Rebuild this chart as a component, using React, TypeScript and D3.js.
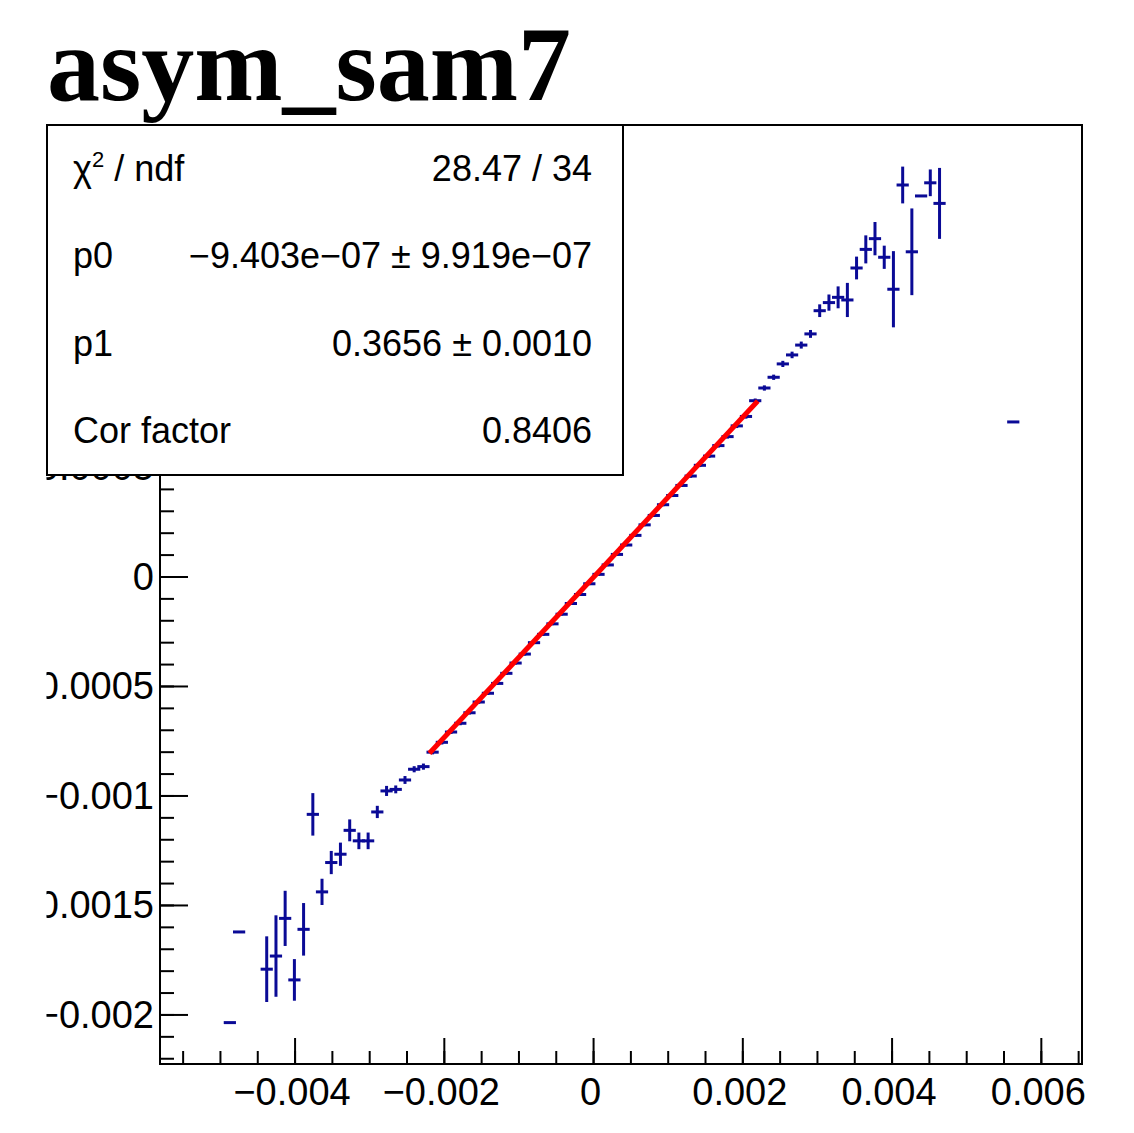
import * as d3 from "d3";

// bin centers, profile values and errors (all x1e-3)
const binCenters = [
  -4.874, -4.75, -4.38, -4.256, -4.133, -4.009, -3.886, -3.762, -3.639, -3.515,
  -3.392, -3.268, -3.145, -3.021, -2.898, -2.774, -2.651, -2.527, -2.404, -2.28,
  -2.157, -2.033, -1.91, -1.786, -1.663, -1.539, -1.416, -1.292, -1.169, -1.045,
  -0.922, -0.798, -0.675, -0.551, -0.428, -0.304, -0.181, -0.057, 0.066, 0.19,
  0.313, 0.437, 0.56, 0.684, 0.807, 0.931, 1.054, 1.178, 1.301, 1.425, 1.548,
  1.672, 1.795, 1.919, 2.042, 2.166, 2.289, 2.413, 2.536, 2.66, 2.783, 2.907,
  3.03, 3.154, 3.277, 3.401, 3.524, 3.648, 3.771, 3.895, 4.018, 4.142, 4.265,
  4.389, 4.512, 4.636, 5.624,
];
const profileValues = [
  -2.035, -1.621, -1.791, -1.731, -1.559, -1.84, -1.609, -1.084, -1.438, -1.304,
  -1.266, -1.157, -1.205, -1.205, -1.073, -0.977, -0.97, -0.927, -0.878, -0.866,
  -0.8, -0.755, -0.708, -0.668, -0.62, -0.571, -0.531, -0.486, -0.44, -0.393,
  -0.352, -0.3, -0.262, -0.214, -0.17, -0.121, -0.08, -0.031, 0.012, 0.055,
  0.103, 0.146, 0.19, 0.238, 0.281, 0.33, 0.372, 0.418, 0.461, 0.51, 0.552, 0.6,
  0.641, 0.69, 0.733, 0.805, 0.863, 0.912, 0.973, 1.014, 1.059, 1.11, 1.216,
  1.253, 1.277, 1.265, 1.411, 1.496, 1.545, 1.46, 1.314, 1.79, 1.485, 1.74, 1.8,
  1.706, 0.708,
];
const profileErrors = [
  0, 0, 0.15, 0.186, 0.126, 0.095, 0.12, 0.097, 0.06, 0.053, 0.053, 0.05, 0.038,
  0.038, 0.028, 0.023, 0.018, 0.018, 0.014, 0.014, 0.01, 0.01, 0.009, 0.009,
  0.008, 0.008, 0.008, 0.007, 0.007, 0.007, 0.007, 0.006, 0.006, 0.006, 0.006,
  0.006, 0.006, 0.006, 0.006, 0.006, 0.006, 0.006, 0.006, 0.006, 0.007, 0.007,
  0.007, 0.007, 0.008, 0.008, 0.008, 0.009, 0.009, 0.01, 0.01, 0.01, 0.012,
  0.012, 0.014, 0.015, 0.016, 0.018, 0.029, 0.037, 0.05, 0.078, 0.052, 0.064,
  0.076, 0.053, 0.174, 0.084, 0.198, 0, 0.061, 0.162, 0,
];
const binWidth = 0.1235; // x1e-3

// fit result
const fitP0 = -9.403e-7;
const fitP1 = 0.3656;
const fitRange = [-0.0022, 0.0022];

const statLabels = ["χ2 / ndf", "p0", "p1", "Cor factor"];
const statValues = ["28.47 / 34", "−9.403e−07 ± 9.919e−07", "0.3656 ± 0.0010", "0.8406"];

const xMajor = [-0.004, -0.002, 0, 0.002, 0.004, 0.006];
const yMajor = [-0.002, -0.0015, -0.001, -0.0005, 0, 0.0005, 0.001, 0.0015, 0.002];

const W = 1134;
const H = 1133;
const frame = { left: 160, right: 1082, top: 125, bottom: 1064 };

const x = d3.scaleLinear().domain([-0.00581, 0.006545]).range([frame.left, frame.right]);
const y = d3.scaleLinear().domain([-0.002224, 0.002064]).range([frame.bottom, frame.top]);

const fmt = (v: number) => (v === 0 ? "0" : String(+v.toFixed(4)).replace("-", "−"));

const BLUE = "#0a0a96";
const FONT = "'Liberation Sans', Arial, sans-serif";

export default function App() {
  const xMinor = d3.range(-12, 14).map((i) => i * 0.0005).filter((v) => v > x.domain()[0] && v < x.domain()[1]);
  const yMinor = d3.range(-22, 21).map((i) => i * 0.0001).filter((v) => v >= y.domain()[0] && v <= y.domain()[1]);

  const pts = binCenters.map((c, i) => ({
    x: c * 1e-3,
    v: profileValues[i] * 1e-3,
    e: profileErrors[i] * 1e-3,
  }));
  const hw = (binWidth * 1e-3) / 2;

  const fitLine = d3
    .line<number>()
    .x((d) => x(d))
    .y((d) => y(fitP0 + fitP1 * d))(fitRange);

  const box = { x: 47, y: frame.top, w: 576, h: 350 };
  const rowH = box.h / statLabels.length;

  // labels fully covered by the stats box are not drawn
  const yLabels = yMajor.filter((v) => y(v) > box.y + box.h - 20);

  return (
    <svg
      width={W}
      height={H}
      style={{ position: "absolute", left: 0, top: 0, background: "#fff" }}
    >
      <defs>
        <clipPath id="crop">
          <rect x={46.5} y={0} width={W} height={H} />
        </clipPath>
      </defs>
      <rect width={W} height={H} fill="#fff" />

      {/* title */}
      <text
        x={47}
        y={100}
        fontFamily="'Liberation Serif', 'Times New Roman', serif"
        fontWeight="bold"
        fontSize={106}
      >
        asym_sam7
      </text>

      {/* ticks */}
      <g stroke="#000" strokeWidth={2}>
        {xMinor.map((v) => (
          <line key={"xm" + v} x1={x(v)} x2={x(v)} y1={frame.bottom} y2={frame.bottom - 13} />
        ))}
        {xMajor.map((v) => (
          <line key={"xM" + v} x1={x(v)} x2={x(v)} y1={frame.bottom} y2={frame.bottom - 26} />
        ))}
        {yMinor.map((v) => (
          <line key={"ym" + v} x1={frame.left} x2={frame.left + 14} y1={y(v)} y2={y(v)} />
        ))}
        {yMajor.map((v) => (
          <line key={"yM" + v} x1={frame.left} x2={frame.left + 28} y1={y(v)} y2={y(v)} />
        ))}
      </g>
      <g fontFamily={FONT} fontSize={38} fill="#000">
        {xMajor.map((v) => (
          <text key={"xl" + v} x={x(v) - 3} y={1105} textAnchor="middle">
            {fmt(v)}
          </text>
        ))}
      </g>
      <g fontFamily={FONT} fontSize={38} fill="#000" clipPath="url(#crop)">
        {yLabels.map((v) => (
          <text key={"yl" + v} x={154} y={y(v) + 13} textAnchor="end">
            {fmt(v)}
          </text>
        ))}
      </g>

      {/* profile points */}
      <g stroke={BLUE} strokeWidth={3}>
        {pts.map((p, i) => (
          <g key={i}>
            <line x1={x(p.x - hw)} x2={x(p.x + hw)} y1={y(p.v)} y2={y(p.v)} strokeLinecap="square" />
            {p.e > 0 && <line x1={x(p.x)} x2={x(p.x)} y1={y(p.v - p.e)} y2={y(p.v + p.e)} />}
          </g>
        ))}
      </g>

      {/* fit */}
      <path d={fitLine ?? ""} stroke="#ff0000" strokeWidth={5} fill="none" />

      {/* frame */}
      <rect
        x={frame.left}
        y={frame.top}
        width={frame.right - frame.left}
        height={frame.bottom - frame.top}
        fill="none"
        stroke="#000"
        strokeWidth={2}
      />

      {/* stats box */}
      <g fontFamily={FONT} fontSize={36} fill="#000">
        <rect x={box.x} y={box.y} width={box.w} height={box.h} fill="#fff" stroke="#000" strokeWidth={2} />
        {statLabels.map((s, i) => {
          const cy = box.y + rowH * (i + 0.5) + 12;
          return (
            <g key={s}>
              <text x={73} y={cy}>
                {i === 0 ? (
                  <>
                    χ
                    <tspan fontSize={22} dy={-14}>
                      2
                    </tspan>
                    <tspan dy={14}> / ndf</tspan>
                  </>
                ) : (
                  s
                )}
              </text>
              <text x={592} y={cy} textAnchor="end">
                {statValues[i]}
              </text>
            </g>
          );
        })}
      </g>
    </svg>
  );
}
